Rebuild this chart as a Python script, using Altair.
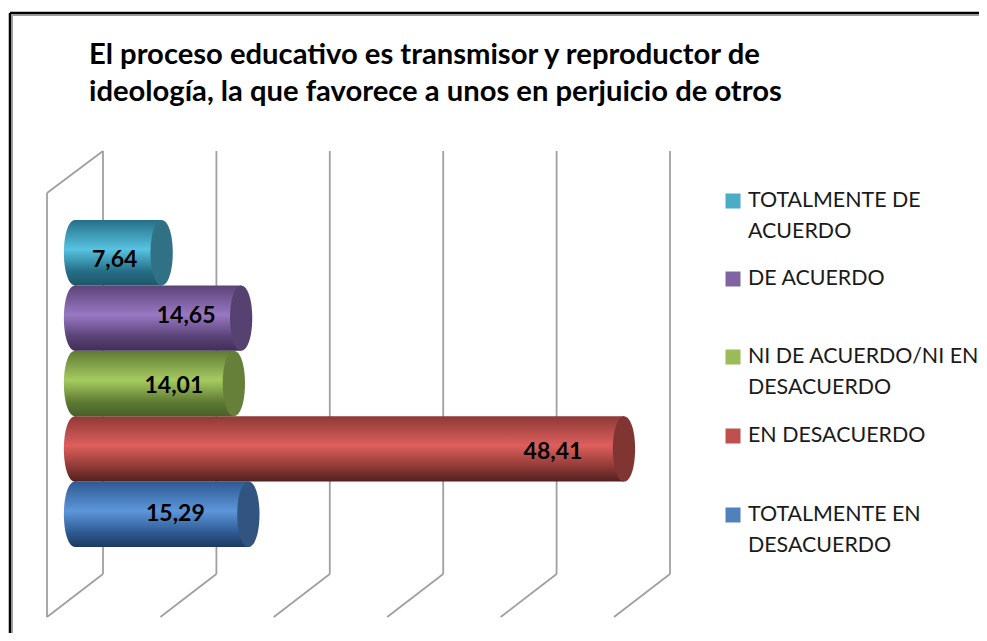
import altair as alt
import pandas as pd

title_lines = ["El proceso educativo es transmisor y reproductor de",
               "ideología, la que favorece a unos en perjuicio de otros"]
categories = ["TOTALMENTE DE ACUERDO", "DE ACUERDO", "NI DE ACUERDO/NI EN DESACUERDO",
              "EN DESACUERDO", "TOTALMENTE EN DESACUERDO"]
values = [7.64, 14.65, 14.01, 48.41, 15.29]
value_labels = ["7,64", "14,65", "14,01", "48,41", "15,29"]
legend_text = ["TOTALMENTE DE\nACUERDO", "DE ACUERDO", "NI DE ACUERDO/NI EN\nDESACUERDO",
               "EN DESACUERDO", "TOTALMENTE EN\nDESACUERDO"]
ticks = [0, 10, 20, 30, 40, 50]

# style tables
dark = ["#256f87", "#5b4378", "#5f7a33", "#8e3936", "#2e5a92"]
light = ["#57c3e2", "#9878c2", "#a6cb60", "#dd5f5d", "#5d96da"]
deep = ["#1f5666", "#3f2f55", "#47602a", "#4f1f1d", "#1d3a60"]
cap = ["#317186", "#564270", "#668039", "#803533", "#315580"]
swatch = ["#4bacc6", "#8064a2", "#9bbb59", "#c0504d", "#4f81bd"]
label_dx = [-47, -55, -60, -71, -73]
label_dy = [7, -2, 2, 3, 0]
legend_y = [193, 271, 349, 428, 507]

W, H = 971, 625
PX = 11.34
X0 = 67
DEPTH = 28 / PX
x_scale = alt.Scale(domain=[-X0 / PX, (W - X0) / PX], range=[0, W], nice=False, zero=False)
y_scale = alt.Scale(type="band", domain=categories, range=[212, 539], paddingInner=0, paddingOuter=0)
FONT = "Lato"
ELLIPSE = "M0,-1 C0.2,-1 0.34,-0.56 0.34,0 C0.34,0.56 0.2,1 0,1 C-0.2,1 -0.34,0.56 -0.34,0 C-0.34,-0.56 -0.2,-1 0,-1 Z"

df = pd.DataFrame({"cat": categories, "v": values, "zero": [0] * 5, "label": value_labels,
                   "legend": legend_text})
grid = pd.DataFrame({"t": ticks})
grid["back"] = grid.t + DEPTH
grid["front"] = grid.t - DEPTH
GRID = "#a0a0a0"
GW = 1.8
X = lambda f: alt.X(f"{f}:Q", scale=x_scale, axis=None)
Y = alt.Y("cat:N", scale=y_scale, axis=None, sort=categories)

layers = []
# frame
one = pd.DataFrame({"a": [1]})
for color, size, off in [("#9a9a9a", 1.5, 2.2), ("#000000", 2.5, 0)]:
    layers.append(alt.Chart(one).mark_rule(color=color, strokeWidth=size).encode(
        x=alt.value(2 + off), x2=alt.value(W), y=alt.value(5 + off), y2=alt.value(5 + off)))
    layers.append(alt.Chart(one).mark_rule(color=color, strokeWidth=size).encode(
        x=alt.value(2 + off), x2=alt.value(2 + off), y=alt.value(5 + off), y2=alt.value(H)))
# walls and floor
layers.append(alt.Chart(grid).mark_rule(color=GRID, strokeWidth=GW).encode(
    x=X("back"), y=alt.value(143), y2=alt.value(566)))
layers.append(alt.Chart(grid).mark_rule(color=GRID, strokeWidth=GW).encode(
    x=X("back"), x2="front:Q", y=alt.value(566), y2=alt.value(609)))
g0 = grid[grid.t == 0]
layers.append(alt.Chart(g0).mark_rule(color=GRID, strokeWidth=GW).encode(
    x=X("front"), y=alt.value(185), y2=alt.value(609)))
layers.append(alt.Chart(g0).mark_rule(color=GRID, strokeWidth=GW).encode(
    x=X("back"), x2="front:Q", y=alt.value(143), y2=alt.value(185)))

# cylinders, front-most (top) category painted last
for i in [4, 3, 2, 1, 0]:
    row = df.iloc[[i]]
    grad = alt.LinearGradient(gradient="linear", x1=0, x2=0, y1=0, y2=1, stops=[
        alt.GradientStop(color=dark[i], offset=0),
        alt.GradientStop(color=light[i], offset=0.45),
        alt.GradientStop(color=dark[i], offset=0.78),
        alt.GradientStop(color=deep[i], offset=1)])
    base = alt.Chart(row)
    layers.append(base.mark_point(shape=ELLIPSE, filled=True, fill=grad, opacity=1, size=4277, strokeWidth=0)
                  .encode(x=X("zero"), y=Y))
    layers.append(base.mark_bar(color=grad).encode(x=X("zero"), x2="v:Q", y=Y))
    layers.append(base.mark_point(shape=ELLIPSE, filled=True, fill=cap[i], opacity=1, size=4277, strokeWidth=0)
                  .encode(x=X("v"), y=Y))

for i in range(5):
    row = df.iloc[[i]]
    layers.append(alt.Chart(row).mark_text(font=FONT, fontWeight="bold", fontSize=23, color="#000000",
                                           dx=label_dx[i], dy=label_dy[i])
                  .encode(x=X("v"), y=Y, text="label:N"))
    layers.append(alt.Chart(row).mark_square(size=225, color=swatch[i], opacity=1)
                  .encode(x=alt.value(725), y=alt.value(legend_y[i]), tooltip="cat:N"))
    layers.append(alt.Chart(row).mark_text(font=FONT, fontSize=21.4, color="#1a1a1a", align="left",
                                           baseline="top", lineBreak="\n", lineHeight=31)
                  .encode(x=alt.value(740), y=alt.value(legend_y[i] - 11), text="legend:N"))

chart = alt.layer(*layers).properties(
    width=W, height=H, padding=0, autosize=alt.AutoSizeParams(type="none"),
    title=alt.TitleParams(text=title_lines, anchor="start", frame="group", font=FONT, fontSize=29.2,
                          fontWeight="bold", color="#000000", lineHeight=37, dx=81, dy=103, baseline="top",
                          align="left")
).configure_view(stroke=None)

chart.save("out.html", embed_options={"renderer": "svg", "actions": False})
